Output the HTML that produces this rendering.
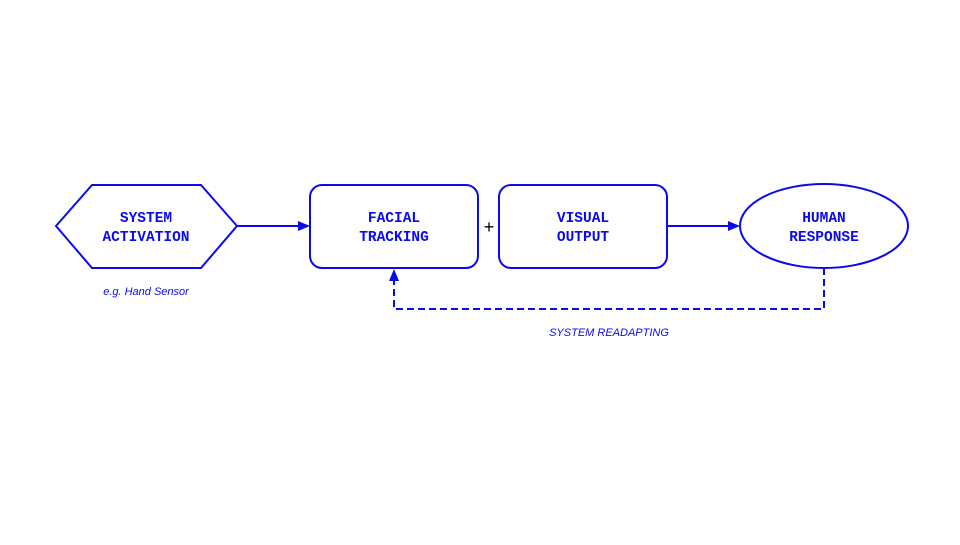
<!DOCTYPE html>
<html><head><style>body{margin:0;background:#fff}</style></head><body>
<svg width="960" height="540" xmlns="http://www.w3.org/2000/svg">
<rect width="960" height="540" fill="#fff"/>
<g fill="none" stroke="#0a0aee" stroke-width="2">
<polygon points="56,226 92,185 201,185 237,226 201,268 92,268"/>
<rect x="310" y="185" width="168" height="83" rx="12"/>
<rect x="499" y="185" width="168" height="83" rx="12"/>
<ellipse cx="824" cy="226" rx="84" ry="42"/>
<line x1="237" y1="226" x2="300" y2="226"/>
<line x1="667" y1="226" x2="730" y2="226"/>
<polyline points="824,268 824,309 394,309 394,280" stroke-dasharray="7,4"/>
</g>
<g fill="#0a0aee">
<polygon points="310,226 298,221 298,231"/>
<polygon points="740,226 728,221 728,231"/>
<polygon points="394,269 389,281 399,281"/>
</g>
<g font-family="Liberation Mono, monospace" font-weight="bold" font-size="14.5" fill="#0a0aee" text-anchor="middle">
<text x="146" y="222">SYSTEM</text><text x="146" y="241">ACTIVATION</text>
<text x="394" y="222">FACIAL</text><text x="394" y="241">TRACKING</text>
<text x="583" y="222">VISUAL</text><text x="583" y="241">OUTPUT</text>
<text x="824" y="222">HUMAN</text><text x="824" y="241">RESPONSE</text>
</g>
<text x="489" y="233" font-family="Liberation Sans, sans-serif" font-size="18" text-anchor="middle" fill="#000">+</text>
<g font-family="Liberation Sans, sans-serif" font-style="italic" font-size="11" fill="#0a0aee" text-anchor="middle">
<text x="146" y="295">e.g. Hand Sensor</text>
<text x="609" y="336">SYSTEM READAPTING</text>
</g>
</svg>
</body></html>
